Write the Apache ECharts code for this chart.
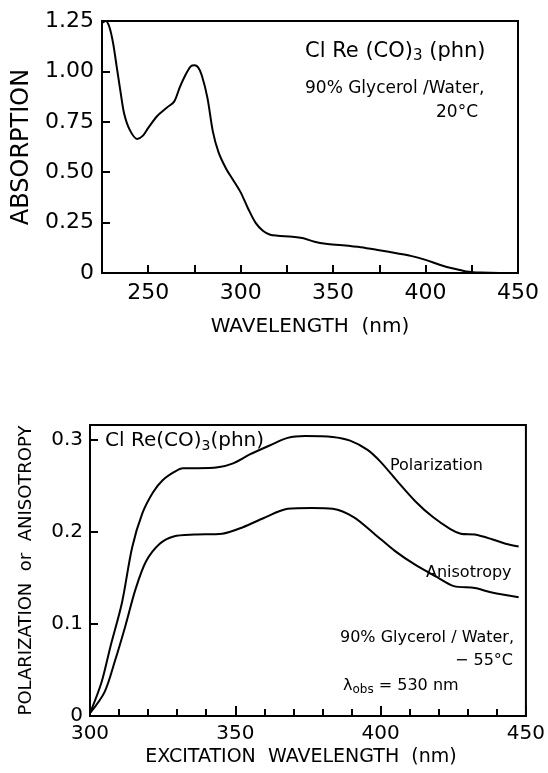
<!DOCTYPE html>
<html>
<head>
<meta charset="utf-8">
<script src="https://cdn.jsdelivr.net/npm/echarts@6/dist/echarts.min.js"></script>
<style>
  html, body { margin: 0; padding: 0; background: #fff; }
  #chart { width: 548px; height: 773px; }
</style>
</head>
<body>
<div id="chart"></div>
<script>
// Absorption spectrum, ClRe(CO)3(phn) in 90% glycerol/water, 20 °C
const absWavelength = [225, 227, 229, 231, 233, 235, 237, 240, 244, 247, 250, 255, 260, 264, 267, 270, 273, 275, 277, 279, 282, 285, 288, 292, 296, 300, 304, 308, 312, 316, 320, 328, 334, 340, 346, 355, 365, 375, 385, 392, 400, 408, 415, 422, 430, 440, 450];
const absorption = [1.24, 1.25, 1.22, 1.14, 1.02, 0.90, 0.79, 0.71, 0.665, 0.68, 0.72, 0.78, 0.82, 0.85, 0.92, 0.98, 1.025, 1.03, 1.02, 0.98, 0.87, 0.70, 0.60, 0.52, 0.46, 0.40, 0.32, 0.25, 0.21, 0.19, 0.185, 0.18, 0.172, 0.155, 0.145, 0.138, 0.128, 0.113, 0.097, 0.085, 0.065, 0.04, 0.022, 0.008, 0.002, 0, 0];

// Excitation polarization and anisotropy, -55 °C, observed at 530 nm
const polWavelength = [300, 304, 307, 311, 314.5, 318, 321.7, 325, 329, 332, 337, 344, 349, 355, 362, 368, 374, 383.5, 389.5, 395.5, 400, 406, 412, 418, 424, 427.6, 432.4, 438.3, 443, 447.5];
const polarization = [0.003, 0.037, 0.075, 0.123, 0.183, 0.22, 0.243, 0.256, 0.265, 0.269, 0.269, 0.27, 0.274, 0.284, 0.294, 0.302, 0.304, 0.303, 0.299, 0.289, 0.276, 0.254, 0.233, 0.216, 0.203, 0.198, 0.197, 0.192, 0.187, 0.184];
const aniWavelength = [300, 305, 308.6, 312.1, 315.7, 319.3, 324, 328.8, 336, 345.5, 352.6, 359.8, 368, 376.4, 383.5, 390.7, 397.8, 405, 412, 419.3, 425.2, 432.4, 438.3, 447.5];
const anisotropy = [0.003, 0.026, 0.06, 0.097, 0.138, 0.168, 0.187, 0.195, 0.197, 0.198, 0.205, 0.215, 0.225, 0.226, 0.225, 0.216, 0.198, 0.179, 0.164, 0.151, 0.141, 0.139, 0.134, 0.129];

// Tick labels
const absTickLabels = ['250', '300', '350', '400', '450'];
const absValueLabels = ['0', '0.25', '0.50', '0.75', '1.00', '1.25'];
const excTickLabels = ['300', '350', '400', '450'];
const polValueLabels = ['0', '0.1', '0.2', '0.3'];

const FONT = 'DejaVu Sans';
const zip = (xs, ys) => xs.map((x, i) => [x, ys[i]]);
const labelFrom = (list, v, digits) => {
  const s = digits === 0 ? String(Math.round(v)) : (v === 0 ? '0' : v.toFixed(digits));
  return list.includes(s) && Math.abs(Number(s) - v) < 1e-6 ? s : '';
};

const chart = echarts.init(document.getElementById('chart'), null, { renderer: 'canvas' });

const axisBase = {
  axisLine: { show: true, onZero: false, lineStyle: { color: '#000', width: 2 } },
  splitLine: { show: false },
  nameLocation: 'middle'
};
const curve = { showSymbol: false, smooth: 0.3, lineStyle: { color: '#000', width: 2 } };

chart.setOption({
  animation: false,
  backgroundColor: '#fff',
  grid: [
    { left: 102, right: 30, top: 21, height: 252, show: true, borderColor: '#000', borderWidth: 2, backgroundColor: 'transparent' },
    { left: 90, right: 21, top: 425, height: 291, show: true, borderColor: '#000', borderWidth: 2, backgroundColor: 'transparent' }
  ],
  xAxis: [
    Object.assign({}, axisBase, {
      gridIndex: 0, type: 'value', min: 225, max: 450, interval: 25,
      name: 'WAVELENGTH  (nm)', nameGap: 44,
      nameTextStyle: { color: '#000', fontFamily: FONT, fontSize: 20 },
      axisTick: { show: true, inside: true, length: 8, lineStyle: { color: '#000', width: 2 } },
      axisLabel: { color: '#000', fontFamily: FONT, fontSize: 22, margin: 9,
        formatter: v => labelFrom(absTickLabels, v, 0) }
    }),
    Object.assign({}, axisBase, {
      gridIndex: 1, type: 'value', min: 300, max: 450, interval: 50,
      name: 'EXCITATION  WAVELENGTH  (nm)', nameGap: 32,
      nameTextStyle: { color: '#000', fontFamily: FONT, fontSize: 19, padding: [0, 14, 0, 0] },
      axisTick: { show: true, inside: true, length: 10, lineStyle: { color: '#000', width: 2 } },
      minorTick: { show: true, splitNumber: 5, length: 7, lineStyle: { color: '#000', width: 2 } },
      axisLabel: { color: '#000', fontFamily: FONT, fontSize: 20, margin: 8,
        formatter: v => labelFrom(excTickLabels, v, 0) }
    })
  ],
  yAxis: [
    Object.assign({}, axisBase, {
      gridIndex: 0, type: 'value', min: 0, max: 1.25, interval: 0.25,
      name: 'ABSORPTION', nameGap: 57, nameRotate: 90,
      nameTextStyle: { color: '#000', fontFamily: FONT, fontSize: 24 },
      axisTick: { show: true, inside: true, length: 8, lineStyle: { color: '#000', width: 2 } },
      axisLabel: { color: '#000', fontFamily: FONT, fontSize: 22, margin: 8,
        formatter: v => labelFrom(absValueLabels, v, 2) }
    }),
    Object.assign({}, axisBase, {
      gridIndex: 1, type: 'value', min: 0, max: 0.316, interval: 0.1,
      name: 'POLARIZATION  or  ANISOTROPY', nameGap: 55, nameRotate: 90,
      nameTextStyle: { color: '#000', fontFamily: FONT, fontSize: 18 },
      axisTick: { show: true, inside: true, length: 8, lineStyle: { color: '#000', width: 2 } },
      axisLabel: { color: '#000', fontFamily: FONT, fontSize: 20, margin: 7,
        formatter: v => labelFrom(polValueLabels, v, 1) }
    })
  ],
  series: [
    Object.assign({ type: 'line', xAxisIndex: 0, yAxisIndex: 0, data: zip(absWavelength, absorption) }, curve),
    Object.assign({ type: 'line', xAxisIndex: 1, yAxisIndex: 1, data: zip(polWavelength, polarization) }, curve),
    Object.assign({ type: 'line', xAxisIndex: 1, yAxisIndex: 1, data: zip(aniWavelength, anisotropy) }, curve)
  ],
  graphic: [
    { type: 'text', left: 305, top: 41, style: {
      text: '{m|Cl Re (CO)}{s|3}{m| (phn)}', fill: '#000',
      rich: { m: { fontFamily: FONT, fontSize: 21, fill: '#000' },
              s: { fontFamily: FONT, fontSize: 15, fill: '#000', padding: [10, 0, 0, 0] } } } },
    { type: 'text', left: 305, top: 80, style: { text: '90% Glycerol /Water,', font: '17px "DejaVu Sans"', fill: '#000' } },
    { type: 'text', right: 70, top: 104, style: { text: '20°C', font: '17px "DejaVu Sans"', fill: '#000' } },

    { type: 'text', left: 105, top: 431, style: {
      text: '{m|Cl Re(CO)}{s|3}{m|(phn)}', fill: '#000',
      rich: { m: { fontFamily: FONT, fontSize: 20, fill: '#000' },
              s: { fontFamily: FONT, fontSize: 14, fill: '#000', padding: [10, 0, 0, 0] } } } },
    { type: 'text', left: 390, top: 458, style: { text: 'Polarization', font: '16px "DejaVu Sans"', fill: '#000' } },
    { type: 'text', left: 426, top: 565, style: { text: 'Anisotropy', font: '16px "DejaVu Sans"', fill: '#000' } },
    { type: 'text', left: 340, top: 630, style: { text: '90% Glycerol / Water,', font: '16px "DejaVu Sans"', fill: '#000' } },
    { type: 'text', right: 35, top: 653, style: { text: '− 55°C', font: '16px "DejaVu Sans"', fill: '#000' } },
    { type: 'text', left: 343, top: 678, style: {
      text: '{m|λ}{s|obs}{m| = 530 nm}', fill: '#000',
      rich: { m: { fontFamily: FONT, fontSize: 16, fill: '#000' },
              s: { fontFamily: FONT, fontSize: 12, fill: '#000', padding: [8, 0, 0, 0] } } } }
  ]
});
</script>
</body>
</html>
